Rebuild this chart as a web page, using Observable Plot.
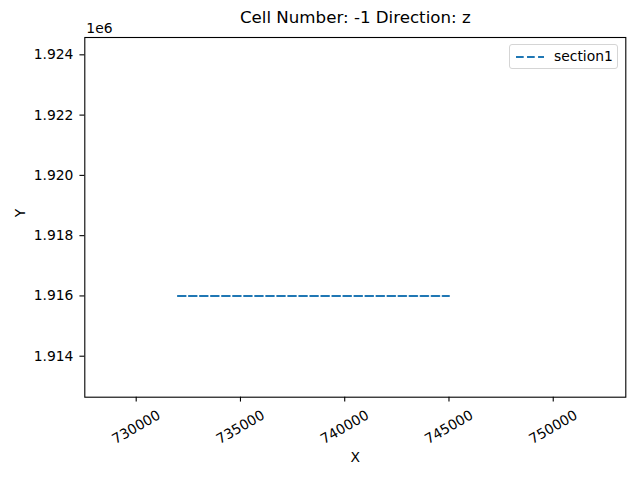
<!DOCTYPE html>
<html>
<head>
<meta charset="utf-8">
<script src="https://cdn.jsdelivr.net/npm/d3@7"></script>
<script src="https://cdn.jsdelivr.net/npm/@observablehq/plot@0.6"></script>
<style>
  body { margin: 0; background: #fff; font-family: "DejaVu Sans", sans-serif; }
  #wrap { position: relative; width: 640px; height: 480px; }
  #legend {
    position: absolute; left: 509px; top: 44px; width: 109px; height: 25px;
    border: 1px solid #d5d5d5; border-radius: 3px; background: rgba(255,255,255,0.8);
    font-size: 13.89px; color: #000; box-sizing: border-box;
  }
  #legend svg { position: absolute; left: 5px; top: 4px; }
  #legend span { position: absolute; left: 44px; top: 3px; }
</style>
</head>
<body>
<div id="wrap"></div>
<script>
const title = "Cell Number: -1 Direction: z";
const seriesName = "section1";
const xValues = [732000, 745000];
const yValues = [1916000, 1916000];
const xTicks = [730000, 735000, 740000, 745000, 750000];
const yTicks = [1914000, 1916000, 1918000, 1920000, 1922000, 1924000];
const xLabel = "X";
const yLabel = "Y";
const yOffsetText = "1e6";

const data = xValues.map((x, i) => ({x, y: yValues[i], series: seriesName}));
const color = "#1f77b4";
const fs = 13.89;

const chart = Plot.plot({
  width: 640,
  height: 480,
  marginTop: 37,
  marginLeft: 84.3,
  marginRight: 14.7,
  marginBottom: 83.3,
  style: {fontFamily: "DejaVu Sans, sans-serif", fontSize: fs + "px", background: "white", color: "black", overflow: "visible"},
  x: {domain: [727535, 753480], label: null},
  y: {domain: [1912640, 1924575], label: null},
  marks: [
    Plot.line(data, {x: "x", y: "y", stroke: color, strokeWidth: 2.08, strokeDasharray: "7.7,3.33"}),
    Plot.frame({stroke: "black", strokeWidth: 1.1}),
    Plot.axisX(xTicks, {tickSize: 4.86, strokeWidth: 1.1, tickFormat: () => "", label: null}),
    Plot.text(xTicks, {x: d => d, frameAnchor: "bottom", dy: 30, rotate: -30, text: d => String(d), fontSize: fs, textAnchor: "middle", lineAnchor: "middle"}),
    Plot.axisY(yTicks, {tickSize: 4.86, strokeWidth: 1.1, tickPadding: 6.5, tickFormat: d => (d / 1e6).toFixed(3), fontSize: fs, label: null}),
    Plot.text([yOffsetText], {frameAnchor: "top-left", dx: 1.5, dy: -4.5, text: d => d, textAnchor: "start", lineAnchor: "bottom", fontSize: fs}),
    Plot.text([title], {frameAnchor: "top", dy: -20, text: d => d, fontSize: 16.67, lineAnchor: "middle"}),
    Plot.text([xLabel], {frameAnchor: "bottom", dy: 60, text: d => d, fontSize: fs, lineAnchor: "middle"}),
    Plot.text([yLabel], {frameAnchor: "left", dx: -64, rotate: -90, text: d => d, fontSize: fs, lineAnchor: "middle"})
  ]
});

const wrap = document.getElementById("wrap");
wrap.appendChild(chart);

const legend = document.createElement("div");
legend.id = "legend";
legend.innerHTML = `<svg width="32" height="16"><line x1="1" y1="8" x2="29" y2="8" stroke="${color}" stroke-width="2.08" stroke-dasharray="7.7,3.33"/></svg><span>${seriesName}</span>`;
wrap.appendChild(legend);
</script>
</body>
</html>
